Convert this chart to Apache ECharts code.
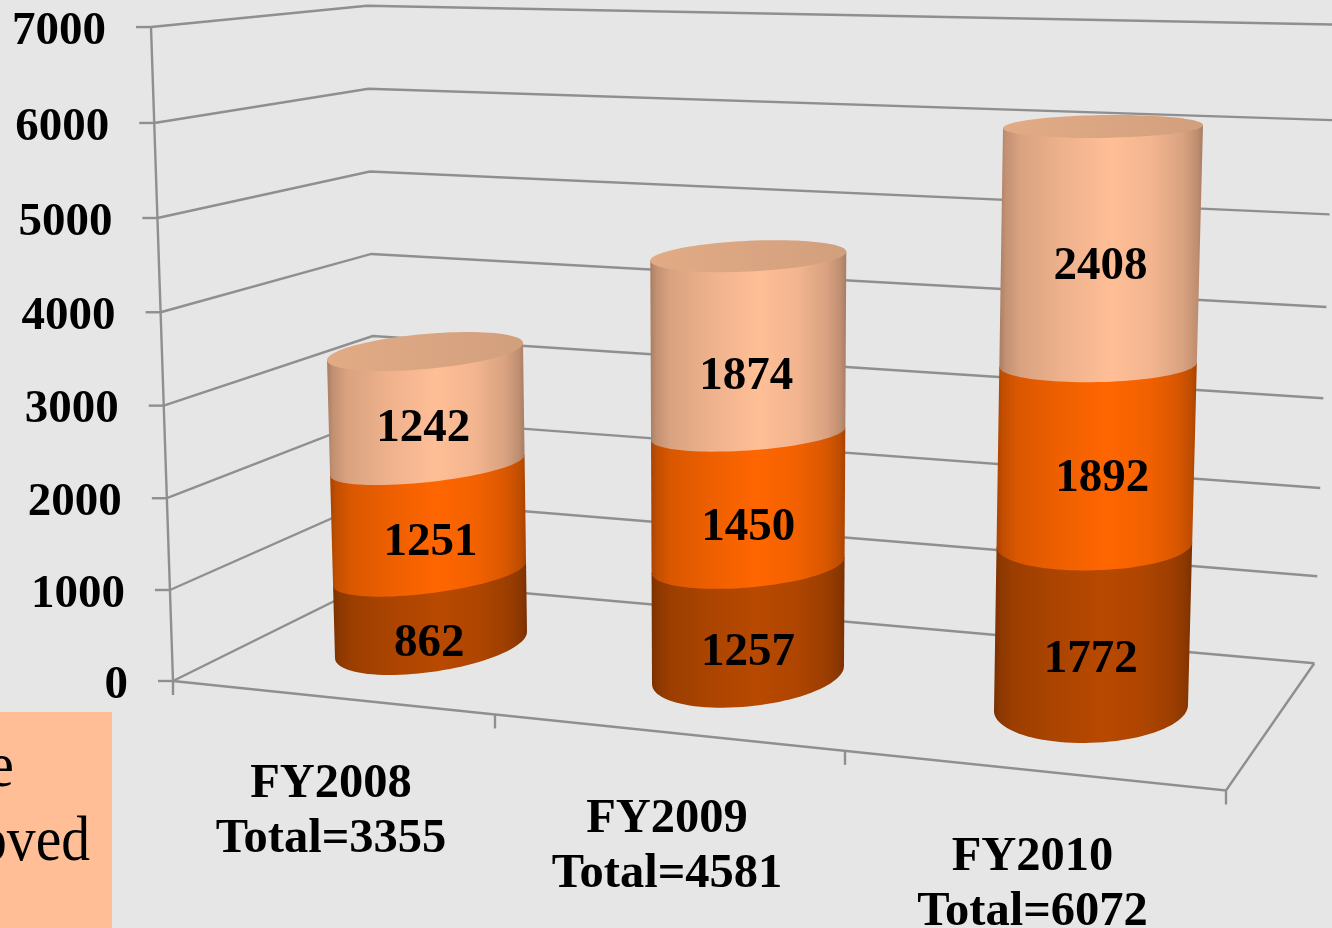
<!DOCTYPE html>
<html><head><meta charset="utf-8">
<style>html,body{margin:0;padding:0;background:#e6e6e6}#c{width:1332px;height:928px}</style>
<script src="https://cdn.jsdelivr.net/npm/echarts@6/dist/echarts.min.js"></script>
</head><body><div id="c"></div>
<script>
// ---- data ----
const categories = ['FY2008', 'FY2009', 'FY2010'];
const totals = [3355, 4581, 6072];
const lowerValues = [862, 1257, 1772];
const middleValues = [1251, 1450, 1892];
const upperValues = [1242, 1874, 2408];
const yTicks = [0, 1000, 2000, 3000, 4000, 5000, 6000, 7000];
const boxLines = ['e', 'oved'];

// ---- perspective layout ----
const Y_MAX = 7000;
const FONT = 'bold 47px "Liberation Serif"';
const CAT_FONT = 'bold 48.5px "Liberation Serif"';
const LINE = '#8f8f8f';
const EDGE_LEFT = {x0: 173, x1: 151, y0: 681, H: 634.2, c: 0.0302};
const EDGE_BACK = {x0: 377, x1: 367, y0: 580, H: 565.7, c: 0.015};
const EDGE_RIGHT = {x0: 1314.3, x1: 1336, y0: 663.3, H: 604.3, c: 0.054};
const FRONT = {x0: 173, y0: 681, x1: 1226, y1: 790.5};
const FLOOR_TICKS_X = [173, 495, 845, 1226];
const CYL = [
  {base: [431, 645], dx: -6, H: 568.3, c: 0.15, topH: 293.5, a0: [96, -13], a1: [98, -8.5], e0: 30, e1: 19.5, p: 4},
  {base: [748, 675], dx: 0.3, H: 602.3, c: 0.09, topH: 418.8, a0: [96, -9], a1: [98, -4.5], e0: 32.7, e1: 16, p: 2.5},
  {base: [1091, 708], dx: 12, H: 635.5, c: 0.06, topH: 581.5, a0: [97, -3], a1: [100, -1.5], e0: 35, e1: 11.5, p: 1.5}
];
const LABEL_NUDGE = [
  [[-1, 34], [2, 23], [-3, 20]],
  [[0, 32], [0, 28], [-2, 31]],
  [[-2, 33], [6, 24], [0, 20]]
];
const SHADE = [[0, .66], [.03, .76], [.1, .85], [.3, .93], [.55, 1], [.75, .95], [.9, .85], [.97, .75], [1, .66]];

function lerp(a, b, t) { return a + (b - a) * t; }
function frac(api, i, v) {
  const y0 = api.coord([i, 0])[1], y1 = api.coord([i, Y_MAX])[1];
  return (y0 - api.coord([i, v])[1]) / (y0 - y1);
}
function edgePoint(e, f) {
  const h = e.H * f / (1 - e.c * f), top = e.H / (1 - e.c);
  return [lerp(e.x0, e.x1, h / top), e.y0 - h];
}
function frontY(x) { return lerp(FRONT.y0, FRONT.y1, (x - FRONT.x0) / (FRONT.x1 - FRONT.x0)); }
function ring(api, i, v) {
  const c = CYL[i], f = frac(api, i, v);
  const h = c.H * f / (1 - c.c * f), g = h / c.topH;
  const A = [lerp(c.a0[0], c.a1[0], g), lerp(c.a0[1], c.a1[1], g)];
  const ext = c.e1 + (c.e0 - c.e1) * Math.pow(Math.max(0, 1 - g), c.p);
  return {C: [c.base[0] + c.dx * g, c.base[1] - h], A, B: Math.sqrt(Math.max(ext * ext - A[1] * A[1], 1))};
}
function ringPt(r, t) {
  return [r.C[0] + r.A[0] * Math.cos(t), r.C[1] + r.A[1] * Math.cos(t) + r.B * Math.sin(t)];
}
function hex(color, k) {
  const n = parseInt(color.slice(1), 16);
  return 'rgb(' + [(n >> 16) & 255, (n >> 8) & 255, n & 255].map(x => Math.round(x * k)).join(',') + ')';
}
function sideFill(color) {
  return {type: 'linear', x: 0, y: 0, x2: 1, y2: 0, colorStops: SHADE.map(s => ({offset: s[0], color: hex(color, s[1])}))};
}
function line(points, w) {
  return {type: 'polyline', shape: {points}, style: {stroke: LINE, lineWidth: w || 2.4, fill: 'none'}, silent: true};
}
function text(str, x, y, align, font) {
  return {type: 'text', x, y, style: {text: str, font: font || FONT, fill: '#000', align: align || 'center', verticalAlign: 'middle', textAlign: align || 'center', textVerticalAlign: 'middle'}};
}

function renderWall(params, api) {
  const v = api.value(0), f = frac(api, 0, v);
  const L = edgePoint(EDGE_LEFT, f), B = edgePoint(EDGE_BACK, f), R = edgePoint(EDGE_RIGHT, f);
  return {type: 'group', children: [
    line([L, B, R]),
    line([[L[0] - 15, L[1]], L]),
    text(String(v), L[0] - 45, L[1] + 4.5, 'right')
  ]};
}
function renderFloor(params, api) {
  const i = api.value(0);
  const a = FLOOR_TICKS_X[i], b = FLOOR_TICKS_X[i + 1], mid = (a + b) / 2 - 3;
  const labelY = frontY((a + b) / 2) + 87;
  const kids = [
    text(categories[i], mid, labelY, 'center', CAT_FONT),
    text('Total=' + totals[i], mid, labelY + 55, 'center', CAT_FONT),
    line([[b, frontY(b)], [b, frontY(b) + 14]])
  ];
  if (i === 0) {
    const P0 = edgePoint(EDGE_LEFT, 0), P1 = edgePoint(EDGE_LEFT, 1), BR = edgePoint(EDGE_RIGHT, 0);
    kids.push(line([P1, P0, [P0[0], P0[1] + 14]]));
    kids.push(line([P0, [FRONT.x1, FRONT.y1], BR]));
  }
  return {type: 'group', children: kids};
}
function renderSegment(color, segIndex, withCap) {
  return function (params, api) {
    const i = api.value(0), from = api.value(1), to = api.value(2);
    const lo = ring(api, i, from), hi = ring(api, i, to);
    const pts = [[hi.C[0] - hi.A[0], hi.C[1] - hi.A[1]]];
    for (let k = 0; k <= 48; k++) pts.push(ringPt(lo, Math.PI - Math.PI * k / 48));
    pts.push([hi.C[0] + hi.A[0], hi.C[1] + hi.A[1]]);
    const kids = [{type: 'polygon', shape: {points: pts}, style: {fill: sideFill(color)}}];
    if (withCap) {
      const cap = [];
      for (let k = 0; k < 96; k++) cap.push(ringPt(hi, 2 * Math.PI * k / 96));
      kids.push({type: 'polygon', shape: {points: cap}, style: {fill: {type: 'linear', x: 0, y: 0, x2: 1, y2: 0, colorStops: [{offset: 0, color: '#e2ab86'}, {offset: 1, color: '#d29f7d'}]}}});
    }
    const mid = ring(api, i, (from + to) / 2), n = LABEL_NUDGE[i][segIndex];
    kids.push(text(String(to - from), mid.C[0] + n[0], mid.C[1] + n[1]));
    return {type: 'group', children: kids};
  };
}
function stackData(values, below) {
  return values.map((v, i) => [i, below[i], below[i] + v]);
}
const zero = categories.map(() => 0);
const lowerTop = lowerValues.slice();
const middleTop = lowerValues.map((v, i) => v + middleValues[i]);
const base = {type: 'custom', coordinateSystem: 'cartesian2d', animation: false, silent: true, clip: false};

const chart = echarts.init(document.getElementById('c'), null, {renderer: 'canvas'});
chart.setOption({
  animation: false,
  backgroundColor: '#e6e6e6',
  grid: {left: 0, right: 0, top: 20, bottom: 20},
  xAxis: {type: 'category', data: categories, show: false},
  yAxis: {type: 'value', min: 0, max: Y_MAX, interval: 1000, show: false},
  series: [
    Object.assign({}, base, {name: 'Walls', data: yTicks.map(v => [v]), renderItem: renderWall, encode: {x: -1, y: 0}}),
    Object.assign({}, base, {name: 'Floor', data: categories.map((c, i) => [i]), renderItem: renderFloor}),
    Object.assign({}, base, {name: 'Lower', data: stackData(lowerValues, zero), renderItem: renderSegment('#b84900', 0, false)}),
    Object.assign({}, base, {name: 'Middle', data: stackData(middleValues, lowerTop), renderItem: renderSegment('#ff6600', 1, false)}),
    Object.assign({}, base, {name: 'Upper', data: stackData(upperValues, middleTop), renderItem: renderSegment('#ffbe96', 2, true)})
  ],
  graphic: [
    {type: 'rect', left: 0, top: 712, shape: {width: 112, height: 216}, style: {fill: '#ffbe96'}, z: 50},
    {type: 'text', x: 14, y: 769, z: 51, scaleX: 0.92, style: {text: boxLines[0], font: '64px "Liberation Serif"', fill: '#000', align: 'right', verticalAlign: 'middle'}},
    {type: 'text', x: 90, y: 843, z: 51, scaleX: 0.9, style: {text: boxLines[1], font: '64px "Liberation Serif"', fill: '#000', align: 'right', verticalAlign: 'middle'}}
  ]
});
</script></body></html>
